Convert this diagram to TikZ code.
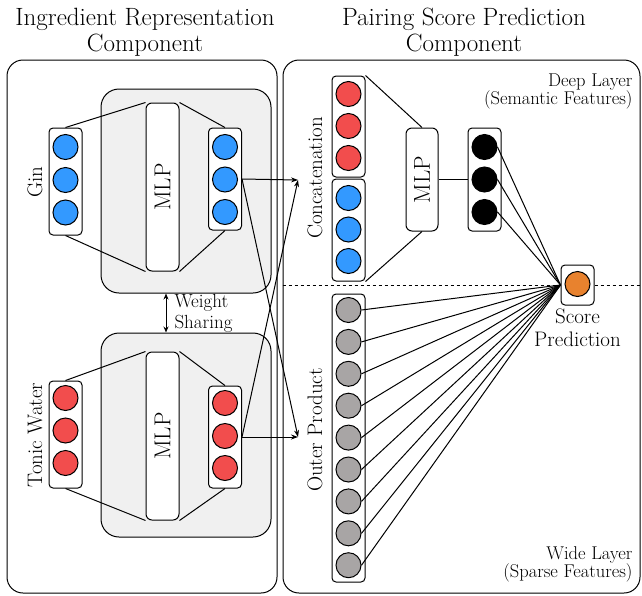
\documentclass[tikz,border=0pt]{standalone}
\usetikzlibrary{arrows.meta}
\definecolor{cblue}{HTML}{3399FF}
\definecolor{cred}{HTML}{F24D4D}
\definecolor{cgray}{HTML}{A8A5A5}
\definecolor{corange}{HTML}{E8822E}
\definecolor{panelgray}{HTML}{F0F0F0}
\begin{document}
\begin{tikzpicture}[x=1pt,y=-1pt,line width=1pt,
  colbox/.style={draw,rounded corners=4pt,minimum width=33pt,inner sep=0pt,fill=white},
  unit/.style={circle,draw,minimum size=25pt,inner sep=0pt},
  bar/.style={draw,rounded corners=6pt,fill=white,minimum width=33pt,inner sep=0pt},
  panelbox/.style={draw,rounded corners=18pt,fill=panelgray,minimum width=170pt,minimum height=204pt,inner sep=0pt},
  frame/.style={draw,rounded corners=16pt,inner sep=0pt},
  lbl/.style={font=\fontsize{21}{24}\selectfont,rotate=90,inner sep=0pt},
  mlplbl/.style={font=\fontsize{23}{24}\selectfont,rotate=90,inner sep=0pt},
  title/.style={font=\fontsize{25}{26}\selectfont,align=center,inner sep=0pt},
  note/.style={font=\fontsize{18.5}{18}\selectfont,align=right,inner sep=0pt},
  arr/.style={-{Stealth[length=7pt,width=5pt]}},
]
\useasboundingbox (0,0) rectangle (642,595);
% titles
\node[title] (t1) at (145,32) {Ingredient Representation\\Component};
\node[title] (t2) at (464,32) {Pairing Score Prediction\\Component};
% frames
\node[frame,minimum width=270pt,minimum height=533pt] (fl) at (142,326.5) {};
\node[frame,minimum width=357pt,minimum height=533pt] (fr) at (461.5,326.5) {};
% panels
\node[panelbox] (p1) at (186,191) {};
\node[panelbox] (p2) at (186,435) {};
% ---- Gin
\node[colbox,minimum height=107pt] (gin) at (65.5,181.5) {};
\node[bar,minimum height=168pt] (m1) at (162.5,187) {};
\node[colbox,minimum height=102pt] (gout) at (225,179) {};
\node[lbl] (ginl) at (35,182) {Gin};
\node[mlplbl] (m1l) at (m1) {MLP};
\foreach \y [count=\i] in {147,180,212.5}{\node[unit,fill=cblue] (gi\i) at (65.5,\y) {};}
\foreach \y [count=\i] in {147,179.5,212}{\node[unit,fill=cblue] (go\i) at (225,\y) {};}
\draw (gin.north) -- (m1.north west);
\draw (gin.south) -- (m1.south west);
\draw (m1.north east) -- (gout.north);
\draw (m1.south east) -- (gout.south);
% ---- Tonic
\node[colbox,minimum height=107pt] (tin) at (65.5,434.5) {};
\node[bar,minimum height=168pt] (m2) at (162.5,436) {};
\node[colbox,minimum height=102pt] (tout) at (225,437) {};
\node[lbl] (tinl) at (35,435) {Tonic Water};
\node[mlplbl] (m2l) at (m2) {MLP};
\foreach \y [count=\i] in {398,430.5,463}{\node[unit,fill=cred] (ti\i) at (65.5,\y) {};}
\foreach \y [count=\i] in {403,436,468}{\node[unit,fill=cred] (to\i) at (225,\y) {};}
\draw (tin.north) -- (m2.north west);
\draw (tin.south) -- (m2.south west);
\draw (m2.north east) -- (tout.north);
\draw (m2.south east) -- (tout.south);
% weight sharing
\coordinate (wsx) at (166,0);
\draw[{Stealth[length=6pt,width=5pt]}-{Stealth[length=6pt,width=5pt]}] (p1.south -| wsx) -- (p2.north -| wsx);
\node[font=\fontsize{19}{21}\selectfont,align=left,anchor=west,inner sep=0pt] (ws) at (174,313) {Weight\\Sharing};
% ---- right side
\coordinate (cat) at (298,180);
\coordinate (op) at (298,437);
\draw[arr] (gout.east) -- (cat);
\draw[arr] (gout.east) -- (op);
\draw[arr] (tout.east) -- (op);
\draw[arr] (tout.east) -- (cat);
\node[colbox,minimum height=101pt] (rbox) at (348.5,126.5) {};
\node[colbox,minimum height=102pt] (bbox) at (348.5,230) {};
\foreach \y [count=\i] in {94,126,158}{\node[unit,fill=cred] (r\i) at (348.5,\y) {};}
\foreach \y [count=\i] in {198,229.5,261}{\node[unit,fill=cblue] (b\i) at (348.5,\y) {};}
\node[lbl] (catl) at (315,178) {Concatenation};
\node[bar,minimum width=32pt,minimum height=103pt] (m3) at (422,179.5) {};
\node[mlplbl] (m3l) at (m3) {MLP};
\node[colbox,minimum height=103pt] (kbox) at (484.5,179.5) {};
\foreach \y [count=\i] in {147,179.5,212}{\node[unit,fill=black] (k\i) at (484.5,\y) {};}
\draw (rbox.north east) -- (m3.north);
\draw (bbox.south east) -- (m3.south);
\draw (m3.east) -- (kbox.west);
% score
\node[colbox,minimum height=40pt] (score) at (577.5,285) {};
\node[unit,fill=corange] (sc) at (577.5,284) {};
\node[font=\fontsize{21}{23}\selectfont,align=center,inner sep=0pt] (scl) at (577.5,328) {Score\\Prediction};
\coordinate (frx) at (640,0);
\draw[dashed] (fr.west |- score.west) -- (score.west);
\draw[dashed] (score.east) -- (frx |- score.east);
\foreach \i in {1,2,3}{\draw (k\i.east) -- (score.west);}
% outer product
\node[colbox,minimum height=288pt] (obox) at (348.5,438) {};
\node[lbl] (opl) at (315,430) {Outer Product};
\foreach \i in {0,...,8}{
  \node[unit,fill=cgray] (g\i) at (348.5,310+31.9*\i) {};
  \draw (g\i.east) -- (score.west);
}
% notes
\node[note,anchor=north east] (deep) at (633,73) {Deep Layer\\(Semantic Features)};
\node[note,anchor=south east] (wide) at (633,583) {Wide Layer\\(Sparse Features)};
\end{tikzpicture}
\end{document}
